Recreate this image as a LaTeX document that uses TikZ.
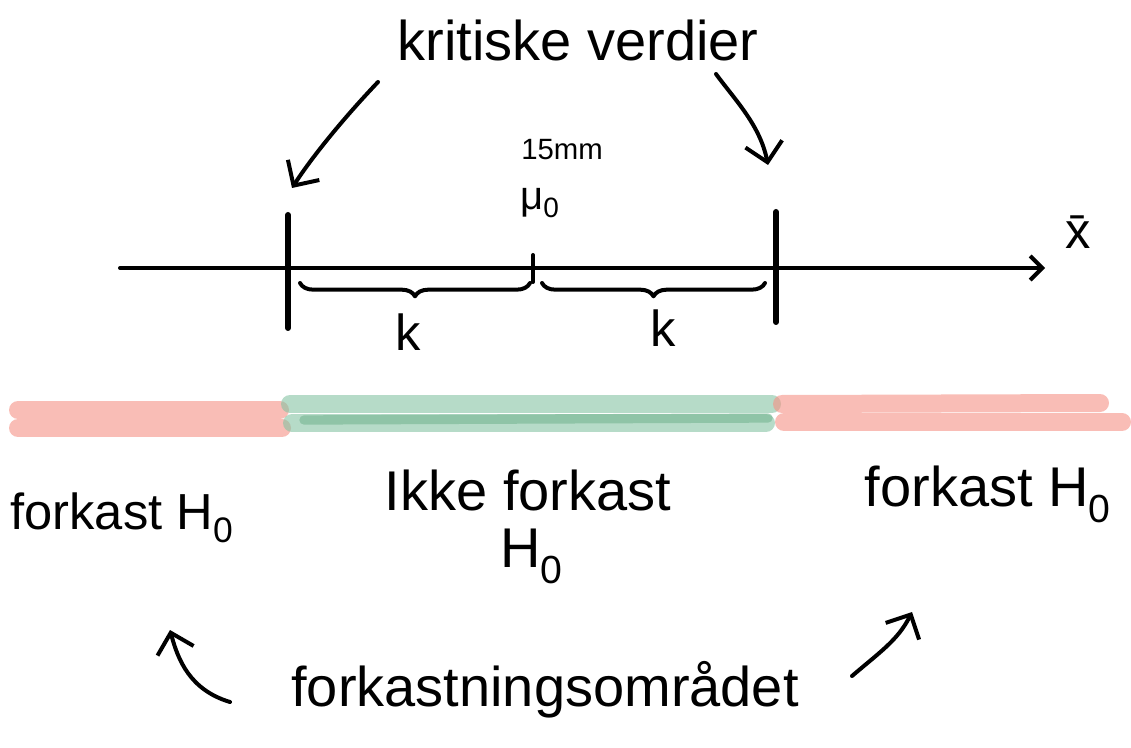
\documentclass[tikz,border=0pt]{standalone}
\usepackage{fontspec}
\setmainfont{Liberation Sans}
\usetikzlibrary{arrows.meta,decorations.pathreplacing}
\definecolor{bandred}{HTML}{F59185}
\definecolor{bandgreen}{HTML}{85C3A3}
\definecolor{bandgreendark}{HTML}{5FAA80}
\begin{document}
\begin{tikzpicture}[x=0.75pt,y=-0.75pt,
  ink/.style={line width=3pt, line cap=round, line join=round, black},
  tickline/.style={line width=4.5pt, line cap=round, black},
  barb/.style={-{Straight Barb[length=14pt,width=28pt]}},
  axisbarb/.style={-{Straight Barb[length=9pt,width=18pt]}},
  bracestyle/.style={ink, decorate, decoration={brace, mirror, amplitude=10pt}},
  redband/.style={line width=13.5pt, line cap=round, draw=bandred, draw opacity=0.6},
  greenband/.style={line width=13.5pt, line cap=round, draw=bandgreen, draw opacity=0.6},
  greeninner/.style={line width=7pt, line cap=round, draw=bandgreendark, draw opacity=0.45},
  bigtext/.style={font=\fontsize{42}{46}\selectfont, inner sep=0pt},
  midtext/.style={font=\fontsize{38}{42}\selectfont, inner sep=0pt},
  smalltext/.style={font=\fontsize{22}{24}\selectfont, inner sep=0pt}]
\useasboundingbox (0,0) rectangle (1131,748);

% axis
\coordinate (ax0) at (120,268);
\coordinate (ax1) at (1045,268);
\draw[ink, axisbarb] (ax0) -- (ax1);
\node[midtext] (xbar) at (1078,232) {\={x}};

% ticks
\coordinate (tL1) at (288,215); \coordinate (tL2) at (288,328);
\coordinate (tR1) at (776,212); \coordinate (tR2) at (776,322);
\coordinate (tM1) at (533,255); \coordinate (tM2) at (533,282);
\draw[tickline] (tL1) -- (tL2);
\draw[tickline] (tR1) -- (tR2);
\draw[ink] (tM1) -- (tM2);

% labels above mu0
\node[smalltext] (mm) at (562,150) {15mm};
\node[font=\fontsize{30}{32}\selectfont, inner sep=0pt] (mu) at (540,203) {μ\textsubscript{0}};

% braces
\coordinate (bL1) at (300,283); \coordinate (bL2) at (530,283);
\coordinate (bR1) at (542,283); \coordinate (bR2) at (765,283);
\draw[bracestyle] (bL1) -- (bL2);
\draw[bracestyle] (bR1) -- (bR2);
\node[midtext] (kL) at (408,332) {k};
\node[midtext] (kR) at (663,328) {k};

% title and arrows
\node[bigtext] (title) at (578,40) {kritiske verdier};
\coordinate (a1s) at (378,82); \coordinate (a1e) at (292,188);
\coordinate (a2s) at (716,74); \coordinate (a2e) at (768,165);
\draw[ink, barb] (a1s) .. controls (340,122) and (310,160) .. (a1e);
\draw[ink, barb] (a2s) .. controls (735,100) and (760,125) .. (a2e);

% bands
\coordinate (r1a) at (18,410); \coordinate (r1b) at (280,410);
\coordinate (r2a) at (18,428); \coordinate (r2b) at (282,428);
\coordinate (g1a) at (290,404); \coordinate (g1b) at (772,404);
\coordinate (g2a) at (292,423); \coordinate (g2b) at (766,423);
\coordinate (g3a) at (304,420); \coordinate (g3b) at (768,418);
\coordinate (q1a) at (782,404); \coordinate (q1b) at (1100,403);
\coordinate (q2a) at (784,422); \coordinate (q2b) at (1122,422);
\draw[redband] (r1a) -- (r1b);
\draw[redband] (r2a) -- (r2b);
\draw[greenband] (g1a) -- (g1b);
\draw[greenband] (g2a) -- (g2b);
\draw[greeninner] (g3a) -- (g3b);
\draw[redband] (q1a) -- (q1b);
\draw[redband] (q2a) -- (q2b);

% region labels
\node[midtext] (fl) at (122,518) {forkast H\textsubscript{0}};
\node[bigtext] (ikke) at (528,490) {Ikke forkast};
\node[bigtext] (ikkeH) at (532,556) {H\textsubscript{0}};
\node[bigtext] (fr) at (988,494) {forkast H\textsubscript{0}};

% bottom label and arrows
\node[bigtext] (omr) at (545,690) {forkastningsområdet};
\coordinate (b1s) at (230,702); \coordinate (b1e) at (170,630);
\coordinate (b2s) at (852,676); \coordinate (b2e) at (912,612);
\draw[ink, barb] (b1s) .. controls (190,690) and (178,660) .. (b1e);
\draw[ink, barb] (b2s) .. controls (880,652) and (898,640) .. (b2e);
\end{tikzpicture}
\end{document}
